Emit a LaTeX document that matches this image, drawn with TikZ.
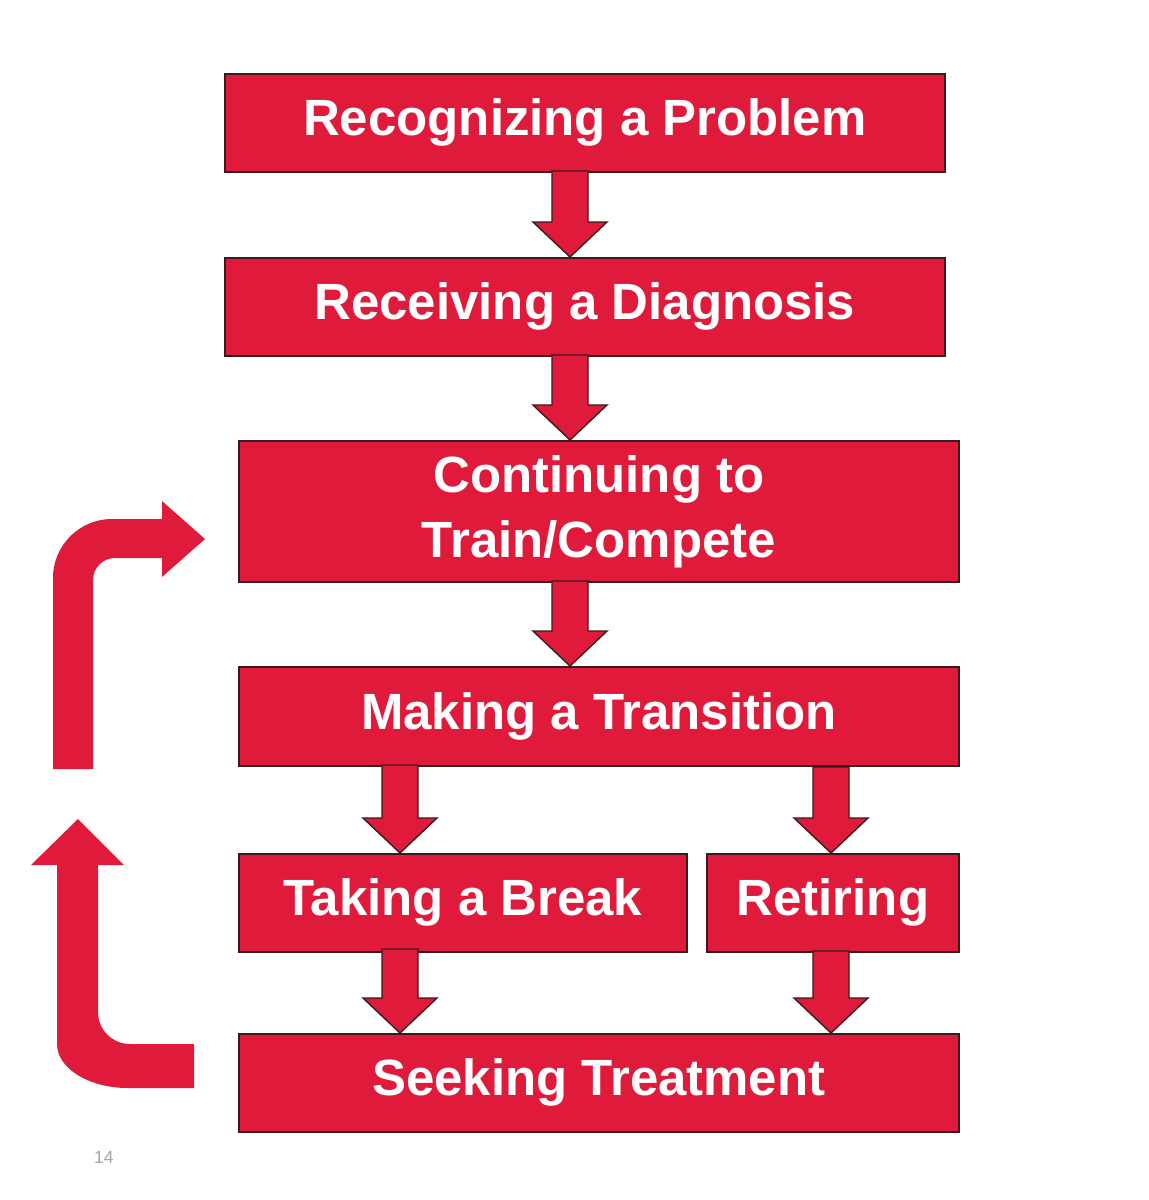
\documentclass[tikz,border=0pt]{standalone}
\usepackage{fontspec}
\setmainfont{Liberation Sans}
\definecolor{cr}{HTML}{E01A3A}
\definecolor{edge}{HTML}{3A1A1A}
\begin{document}
\begin{tikzpicture}[x=0.02cm,y=-0.02cm,
  box/.style={draw=edge,line width=1pt,fill=cr,text=white,font=\bfseries\fontsize{29}{37}\selectfont,inner sep=0pt,anchor=north west,align=center},
  blk/.style={draw=edge,line width=0.8pt,fill=cr,line join=miter},
  bend/.style={fill=cr}]
\useasboundingbox (0,0) rectangle (1149,1200);
\node[box,minimum width=720*0.02cm,minimum height=98*0.02cm] (b1) at (224,73) {Recognizing a Problem};
\node[box,minimum width=720*0.02cm,minimum height=98*0.02cm] (b2) at (224,257) {Receiving a Diagnosis};
\node[box,minimum width=720*0.02cm,minimum height=141*0.02cm] (b3) at (238,440) {Continuing to\\Train/Compete};
\node[box,minimum width=720*0.02cm,minimum height=99*0.02cm] (b4) at (238,666) {Making a Transition};
\node[box,minimum width=448*0.02cm,minimum height=98*0.02cm] (b5) at (238,853) {Taking a Break};
\node[box,minimum width=252*0.02cm,minimum height=98*0.02cm] (b6) at (706,853) {Retiring};
\node[box,minimum width=720*0.02cm,minimum height=98*0.02cm] (b7) at (238,1033) {Seeking Treatment};
% down block arrows: #1 center x, #2 top y, #3 tip y
\newcommand{\darr}[3]{\draw[blk] (#1-18,#2) -- (#1+18,#2) -- (#1+18,#3-35) -- (#1+37,#3-35) -- (#1,#3) -- (#1-37,#3-35) -- (#1-18,#3-35) -- cycle;}
\darr{570}{171}{257}
\darr{570}{355}{440}
\darr{570}{581}{666}
\darr{400}{765}{853}
\darr{831}{767}{853}
\darr{400}{949}{1033}
\darr{831}{951}{1033}
% top bent arrow
\fill[cr] (53,769) -- (53,578) arc[start angle=180,end angle=90,x radius=59,y radius=-59] -- (162,519) -- (162,501) -- (205,539) -- (162,577) -- (162,558) -- (115,558) arc[start angle=90,end angle=180,x radius=22,y radius=-22] -- (93,769) -- cycle;
% bottom bent arrow
\fill[cr] (194,1088) -- (128,1088) arc[start angle=270,end angle=180,x radius=71,y radius=-44] -- (57,865) -- (31,865) -- (78,819) -- (124,865) -- (98,865) -- (98,1012) arc[start angle=180,end angle=270,x radius=32,y radius=-32] -- (194,1044) -- cycle;
\node[text=gray!70,font=\fontsize{10}{12}\selectfont] (pg) at (104,1157) {14};
\end{tikzpicture}
\end{document}
